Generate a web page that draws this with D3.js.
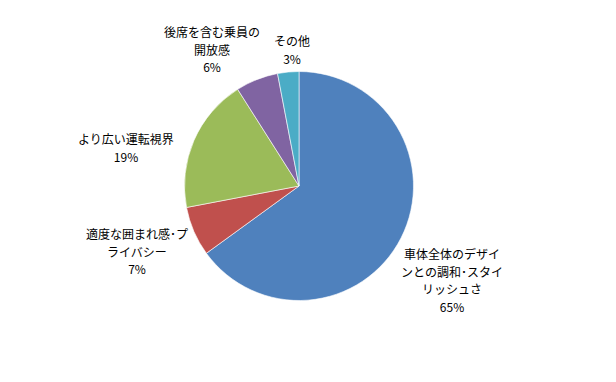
<!DOCTYPE html>
<html>
<head>
<meta charset="utf-8">
<script src="https://cdn.jsdelivr.net/npm/d3@7"></script>
<style>
  html, body { margin: 0; padding: 0; background: #fff; }
  svg { display: block; }
  text { font-family: "Noto Sans CJK JP", "Noto Sans", sans-serif; font-size: 12px; fill: #000; }
</style>
</head>
<body>
<svg id="chart" width="616" height="382"></svg>
<script>
// Survey answers, clockwise from 12 o'clock
const categories = [
  ["車体全体のデザイ", "ンとの調和･スタイ", "リッシュさ"],
  ["適度な囲まれ感･プ", "ライバシー"],
  ["より広い運転視界"],
  ["後席を含む乗員の", "開放感"],
  ["その他"]
];
const values = [65, 7, 19, 6, 3];
const colors = ["#4F81BD", "#C0504D", "#9BBB59", "#8064A2", "#4BACC6"];

// Label block centres (first line), in page coordinates
const labelAnchors = [[452, 255], [137, 235], [126, 140], [212, 33], [292, 42]];

const svg = d3.select("#chart");
const cx = 299, cy = 186, radius = 114.5;
const lineH = 17.5;

const pie = d3.pie().sort(null).value(d => d)(values);
const arc = d3.arc().innerRadius(0).outerRadius(radius);

const g = svg.append("g").attr("transform", `translate(${cx},${cy})`);
g.selectAll("path")
  .data(pie)
  .join("path")
  .attr("d", arc)
  .attr("fill", (d, i) => colors[i])
  .attr("stroke", "#fff")
  .attr("stroke-width", 0.6);

// Category lines followed by the percentage, centred under each anchor
pie.forEach((d, i) => {
  const [x, y] = labelAnchors[i];
  const lines = categories[i].concat([d.data + "%"]);
  lines.forEach((s, k) => {
    svg.append("text")
      .attr("text-anchor", "middle")
      .attr("x", x)
      .attr("y", y + 4 + k * lineH)
      .text(s);
  });
});
</script>
</body>
</html>
